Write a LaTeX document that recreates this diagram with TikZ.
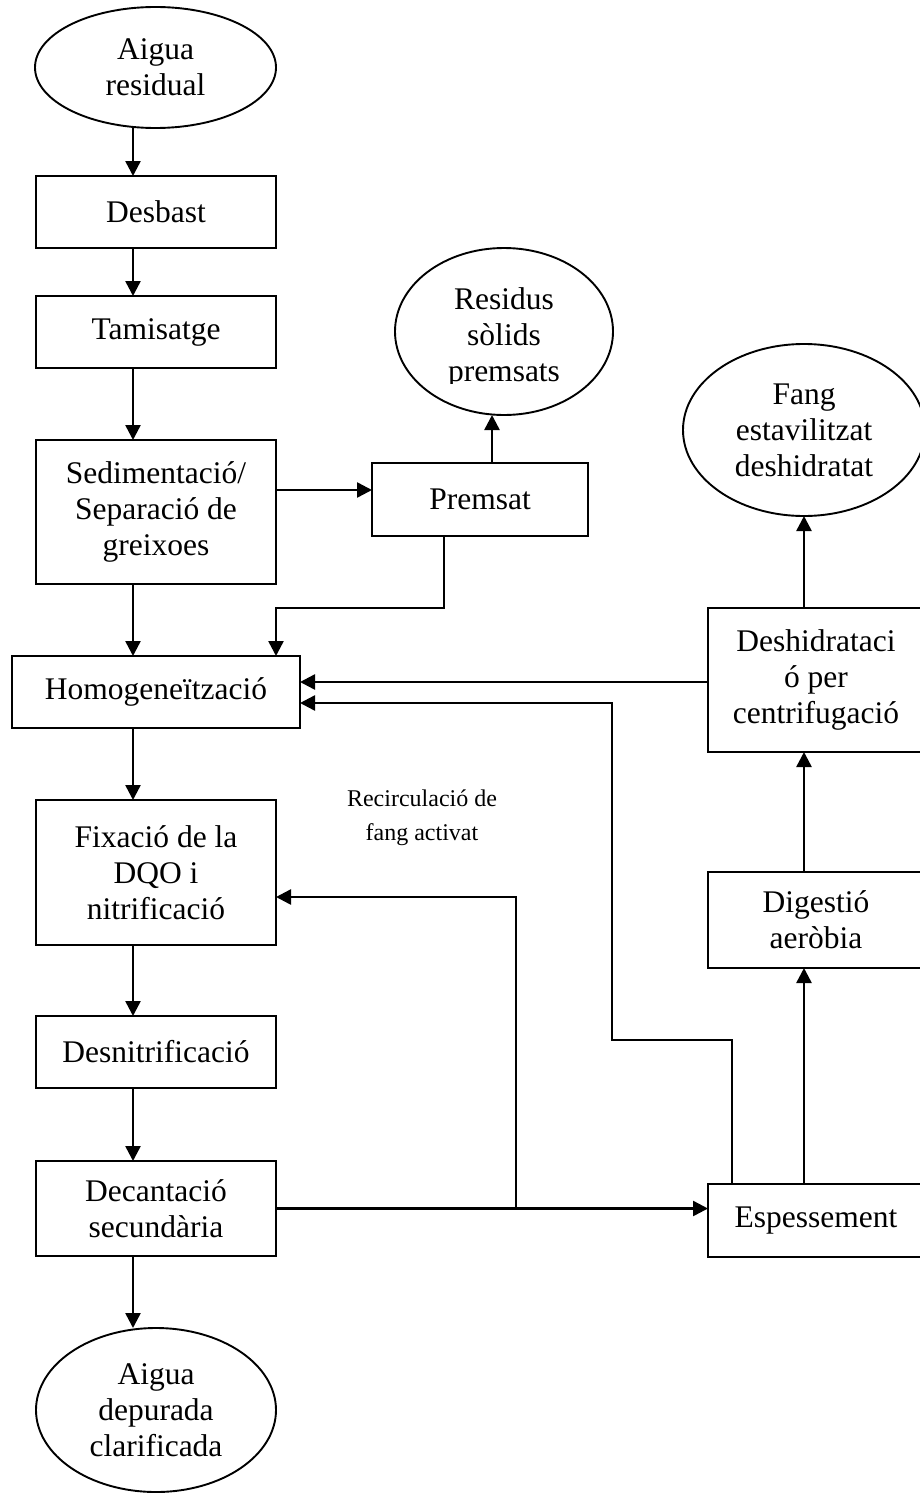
\documentclass[tikz,border=0pt]{standalone}
\usepackage{fontspec}
\setmainfont{Liberation Serif}
\usetikzlibrary{shapes.geometric,arrows.meta}
\begin{document}
\begin{tikzpicture}[x=1pt,y=-1pt,
  every node/.style={inner sep=0pt, outer sep=0pt},
  txt/.style={font=\fontsize{31.5}{36}\selectfont, align=center},
  small/.style={font=\fontsize{24}{34}\selectfont, align=center},
  box/.style={txt, draw, line width=1.9pt, rectangle},
  oval/.style={txt, draw, line width=1.9pt, ellipse},
  arr/.style={line width=2.5pt, -{Triangle[length=15pt,width=15pt]}},
  lin/.style={line width=2.5pt}]
\useasboundingbox (0,0) rectangle (919,1493);
\fill[white] (0,0) rectangle (919,1493);

% left column
\node[oval, minimum width=241pt, minimum height=121pt] (ar) at (155.5,67.5) {Aigua\\residual};
\node[box, minimum width=240pt, minimum height=72pt] (desbast) at (156,212) {Desbast};
\node[box, minimum width=240pt, minimum height=72pt] (tamis) at (156,332) {Tamisatge};
\node[box, minimum width=240pt, minimum height=144pt] (sed) at (156,512) {Sedimentació/\\Separació de\\greixoes};
\node[box, minimum width=288pt, minimum height=72pt] (homog) at (156,692) {Homogeneïtzació};
\node[box, minimum width=240pt, minimum height=145pt] (fix) at (156,872.5) {Fixació de la\\DQO i\\nitrificació};
\node[box, minimum width=240pt, minimum height=72pt] (desnit) at (156,1052) {Desnitrificació};
\node[box, minimum width=240pt, minimum height=95pt] (decant) at (156,1208.5) {Decantació\\secundària};
\node[oval, minimum width=240pt, minimum height=164pt] (ad) at (156,1410) {Aigua\\depurada\\clarificada};

% middle
\node[box, minimum width=216pt, minimum height=73pt] (premsat) at (480,499.5) {Premsat};
\node[draw, ellipse, line width=1.9pt, minimum width=218pt, minimum height=167pt] (res) at (504,331.5) {};
\begin{scope}
  \clip (395,248) rectangle (613,383);
  \node[txt] (restext) at (504,338) {Residus\\sòlids\\premsats};
\end{scope}
\node[small] (recirc) at (422,818) {Recirculació de\\fang activat};

% right column
\node[oval, minimum width=242pt, minimum height=172pt] (fang) at (804,430) {Fang\\estavilitzat\\deshidratat};
\node[box, minimum width=216pt, minimum height=144pt] (deshid) at (816,680) {Deshidrataci\\ó per\\centrifugació};
\node[box, minimum width=216pt, minimum height=96pt] (digest) at (816,920) {Digestió\\aeròbia};
\node[box, minimum width=216pt, minimum height=73pt] (espes) at (816,1220.5) {Espessement};

% helper coordinates
\coordinate (cx) at (133,0);
\coordinate (xc) at (804,0);
\coordinate (ysp) at (0,490);
\coordinate (xpr) at (492,0);
\coordinate (xpd) at (444,0);
\coordinate (ypd) at (0,608);
\coordinate (xh) at (276,0);
\coordinate (yh1) at (0,682);
\coordinate (yh2) at (0,703);
\coordinate (xe1) at (732,0);
\coordinate (ye1) at (0,1040);
\coordinate (xe2) at (612,0);
\coordinate (xr) at (516,0);
\coordinate (yr) at (0,897);

% left column arrows
\draw[arr] (ar.south -| cx) -- (desbast.north -| cx);
\draw[arr] (desbast.south -| cx) -- (tamis.north -| cx);
\draw[arr] (tamis.south -| cx) -- (sed.north -| cx);
\draw[arr] (sed.south -| cx) -- (homog.north -| cx);
\draw[arr] (homog.south -| cx) -- (fix.north -| cx);
\draw[arr] (fix.south -| cx) -- (desnit.north -| cx);
\draw[arr] (desnit.south -| cx) -- (decant.north -| cx);
\draw[arr] (decant.south -| cx) -- (ad.north -| cx);

% premsat
\draw[arr] (sed.east |- ysp) -- (premsat.west |- ysp);
\draw[arr] (premsat.north -| xpr) -- (res.south -| xpr);
\draw[arr] (premsat.south -| xpd) |- (xh |- ypd) -- (homog.north -| xh);

% returns to homogeneitzacio
\draw[arr] (deshid.west |- yh1) -- (homog.east |- yh1);
\draw[arr] (espes.north -| xe1) |- (xe2 |- ye1) |- (homog.east |- yh2);

% decantacio
\draw[arr] (decant.east) -- (espes.west |- decant.east);
\draw[arr] (decant.east -| xr) |- (fix.east |- yr);

% right column arrows
\draw[arr] (espes.north -| xc) -- (digest.south -| xc);
\draw[arr] (digest.north -| xc) -- (deshid.south -| xc);
\draw[arr] (deshid.north -| xc) -- (fang.south -| xc);
\end{tikzpicture}
\end{document}
